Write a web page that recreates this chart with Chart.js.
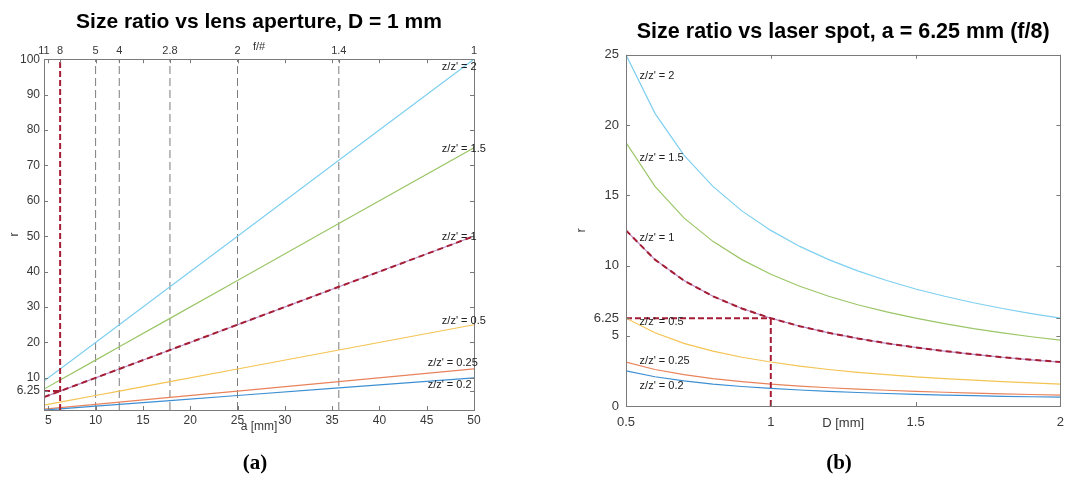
<!DOCTYPE html>
<html>
<head>
<meta charset="utf-8">
<script src="https://cdn.jsdelivr.net/npm/chart.js@4.4.1/dist/chart.umd.min.js"></script>
<style>
  body { margin: 0; background: #fff; }
  #wrap { position: relative; width: 1073px; height: 478px; overflow: hidden; }
  #wrap canvas { position: absolute; top: 0; }
  #chart-a { left: 0; }
  #chart-b { left: 540px; }
  .caption {
    position: absolute; top: 450px; line-height: 24px;
    font: bold 21px "Liberation Serif", serif; color: #000;
    transform: translateX(-50%);
  }
</style>
</head>
<body>
<div id="wrap">
  <canvas id="chart-a" width="540" height="478"></canvas>
  <canvas id="chart-b" width="533" height="478"></canvas>
  <div class="caption" style="left:255px">(a)</div>
  <div class="caption" style="left:839px">(b)</div>
</div>

<script>
// (a) size ratio r against lens aperture a, D = 1 mm
const apertureMm = [4.545, 6.25, 10, 12.5, 17.86, 25, 35.71, 50];
const fNumberLabels = ["11", "8", "5", "4", "2.8", "2", "1.4", "1"];
const apertureTicks = [5, 10, 15, 20, 25, 30, 35, 40, 45, 50];
const ratioTicksA = [6.25, 10, 20, 30, 40, 50, 60, 70, 80, 90, 100];

const rA_02 = [0.91, 1.25, 2.0, 2.5, 3.57, 5.0, 7.14, 10.0];
const rA_025 = [1.14, 1.56, 2.5, 3.13, 4.46, 6.25, 8.93, 12.5];
const rA_05 = [2.27, 3.13, 5.0, 6.25, 8.93, 12.5, 17.86, 25.0];
const rA_1 = [4.55, 6.25, 10.0, 12.5, 17.86, 25.0, 35.71, 50.0];
const rA_15 = [6.82, 9.38, 15.0, 18.75, 26.79, 37.5, 53.57, 75.0];
const rA_2 = [9.09, 12.5, 20.0, 25.0, 35.71, 50.0, 71.43, 100.0];

// (b) size ratio r against laser spot D, a = 6.25 mm
const spotMm = [0.5, 0.6, 0.7, 0.8, 0.9, 1.0, 1.1, 1.2, 1.3, 1.4, 1.5, 1.6, 1.7, 1.8, 1.9, 2.0];
const spotTicks = [0.5, 1, 1.5, 2];
const ratioTicksB = [0, 5, 6.25, 10, 15, 20, 25];

const rB_02 = [2.5, 2.08, 1.79, 1.56, 1.39, 1.25, 1.14, 1.04, 0.96, 0.89, 0.83, 0.78, 0.74, 0.69, 0.66, 0.63];
const rB_025 = [3.13, 2.6, 2.23, 1.95, 1.74, 1.56, 1.42, 1.3, 1.2, 1.12, 1.04, 0.98, 0.92, 0.87, 0.82, 0.78];
const rB_05 = [6.25, 5.21, 4.46, 3.91, 3.47, 3.13, 2.84, 2.6, 2.4, 2.23, 2.08, 1.95, 1.84, 1.74, 1.64, 1.56];
const rB_1 = [12.5, 10.42, 8.93, 7.81, 6.94, 6.25, 5.68, 5.21, 4.81, 4.46, 4.17, 3.91, 3.68, 3.47, 3.29, 3.13];
const rB_15 = [18.75, 15.63, 13.39, 11.72, 10.42, 9.38, 8.52, 7.81, 7.21, 6.7, 6.25, 5.86, 5.51, 5.21, 4.93, 4.69];
const rB_2 = [25.0, 20.83, 17.86, 15.63, 13.89, 12.5, 11.36, 10.42, 9.62, 8.93, 8.33, 7.81, 7.35, 6.94, 6.58, 6.25];

const ratioNames = ["z/z' = 0.2", "z/z' = 0.25", "z/z' = 0.5", "z/z' = 1", "z/z' = 1.5", "z/z' = 2"];

// working point: f/8 aperture and 1 mm spot give r = 6.25
const workA = { x: 6.25, y: 6.25 };
const workB = { x: 1, y: 6.25 };

const FONT = "'Liberation Sans', Arial, sans-serif";
const TEXT = "#383838";
const AXIS = "#7a7a7a";
const GUIDE = "#7c7c7c";
const MARK = "#a51d35";
const COLORS = ["#3d8fd3", "#e8835b", "#f4c453", "#b98bc9", "#9bc667", "#7ecff0"];

const toPoints = (xs, ys) => xs.map((x, i) => ({ x: x, y: ys[i] }));

function curve(points, color) {
  return { data: points, borderColor: color, borderWidth: 1.2, pointRadius: 0, order: 2 };
}
function dashed(points, color, width, dash, order) {
  return { data: points, borderColor: color, borderWidth: width, borderDash: dash, pointRadius: 0, order: order };
}
const tickList = values => scale => { scale.ticks = values.map(v => ({ value: v })); };

// box round the plot area with MATLAB-style inward tick marks, plus curve labels
const framePlugin = {
  id: "frame",
  afterDatasetsDraw(chart, args, opts) {
    const { ctx, chartArea, scales } = chart;
    const { left, right, top, bottom } = chartArea;
    const len = 4;
    ctx.save();
    ctx.strokeStyle = AXIS;
    ctx.lineWidth = 1;
    ctx.beginPath();
    scales.x.ticks.forEach(t => {
      const px = Math.round(scales.x.getPixelForValue(t.value)) + 0.5;
      ctx.moveTo(px, bottom); ctx.lineTo(px, bottom - len);
      ctx.moveTo(px, top); ctx.lineTo(px, top + len);
    });
    if (scales.xTop) {
      scales.xTop.ticks.forEach(t => {
        const px = Math.round(scales.xTop.getPixelForValue(t.value)) + 0.5;
        ctx.moveTo(px, top); ctx.lineTo(px, top + len);
      });
    }
    scales.y.ticks.forEach(t => {
      const py = Math.round(scales.y.getPixelForValue(t.value)) + 0.5;
      ctx.moveTo(left, py); ctx.lineTo(left + len, py);
      ctx.moveTo(right, py); ctx.lineTo(right - len, py);
    });
    ctx.stroke();
    ctx.strokeRect(Math.round(left) + 0.5, Math.round(top) + 0.5, Math.round(right - left), Math.round(bottom - top));

    ctx.fillStyle = "#222";
    ctx.font = "11px " + FONT;
    ctx.textAlign = "left";
    ctx.textBaseline = "middle";
    (opts.labels || []).forEach(l => {
      ctx.fillText(l.text, scales.x.getPixelForValue(l.x), scales.y.getPixelForValue(l.y));
    });
    ctx.restore();
  }
};

function tickFont(size) { return { family: FONT, size: size }; }

// ---------- chart (a) ----------
const labelPosA = [[45.1, 8.1], [45.1, 14.3], [46.6, 26.0], [46.6, 49.7], [46.6, 74.7], [46.6, 97.8]];
const xMinA = apertureMm[0], xMaxA = apertureMm[apertureMm.length - 1];
const yMinA = rA_02[0], yMaxA = 100;

const datasetsA = [];
// f-stop guide lines
apertureMm.slice(2, 7).forEach(a => {
  datasetsA.push(dashed([{ x: a, y: yMinA }, { x: a, y: yMaxA }], GUIDE, 1, [8, 4], 3));
});
[rA_02, rA_025, rA_05, rA_1, rA_15, rA_2].forEach((r, i) => {
  datasetsA.push(curve(toPoints(apertureMm, r), COLORS[i]));
});
datasetsA.push(dashed(toPoints(apertureMm, rA_1), MARK, 2, [6, 4], 1));
datasetsA.push(dashed([{ x: workA.x, y: yMinA }, { x: workA.x, y: yMaxA }], MARK, 2, [6, 3], 1));
datasetsA.push(dashed([{ x: xMinA, y: workA.y }, { x: workA.x, y: workA.y }], MARK, 2, [6, 3], 1));

new Chart(document.getElementById("chart-a"), {
  type: "line",
  data: { datasets: datasetsA },
  options: {
    responsive: false,
    animation: false,
    devicePixelRatio: 1,
    layout: { padding: { left: 0, right: 66, top: 0, bottom: 0 } },
    plugins: {
      legend: { display: false },
      tooltip: { enabled: false },
      title: {
        display: true,
        fullSize: false,
        text: "Size ratio vs lens aperture, D = 1 mm",
        color: "#000",
        font: { family: FONT, size: 21, weight: "bold" },
        padding: { top: 10, bottom: 4 },
      },
      frame: {
        labels: labelPosA.map((p, i) => ({ text: ratioNames[i], x: p[0], y: p[1] })),
      },
    },
    scales: {
      x: {
        type: "linear",
        position: "bottom",
        min: xMinA,
        max: xMaxA,
        afterBuildTicks: tickList(apertureTicks),
        afterFit: s => { s.height = 68; },
        grid: { display: false, drawTicks: false },
        border: { display: false },
        ticks: { color: TEXT, font: tickFont(12), padding: 3, autoSkip: false, maxRotation: 0, callback: v => String(v) },
        title: { display: true, text: "a [mm]", color: TEXT, font: tickFont(12), padding: { top: 0, bottom: 44 } },
      },
      xTop: {
        type: "linear",
        position: "top",
        min: xMinA,
        max: xMaxA,
        afterBuildTicks: tickList(apertureMm),
        afterFit: s => { s.height = 20; },
        grid: { display: false, drawTicks: false },
        border: { display: false },
        ticks: { color: TEXT, font: tickFont(11), padding: 2, autoSkip: false, maxRotation: 0, callback: (v, i) => fNumberLabels[i] },
        title: { display: true, text: "f/#", color: TEXT, font: tickFont(11), padding: { top: 1, bottom: 0 } },
      },
      y: {
        type: "linear",
        min: yMinA,
        max: yMaxA,
        afterBuildTicks: tickList(ratioTicksA),
        afterFit: s => { s.width = 44; },
        grid: { display: false, drawTicks: false },
        border: { display: false },
        ticks: { color: TEXT, font: tickFont(12), padding: 4, autoSkip: false, callback: v => String(v) },
        title: { display: true, text: "r", color: TEXT, font: tickFont(12), padding: { top: 7, bottom: 0 } },
      },
    },
  },
  plugins: [framePlugin],
});

// ---------- chart (b) ----------
const labelPosB = [[0.547, 1.46], [0.547, 3.17], [0.547, 5.95], [0.547, 11.98], [0.547, 17.65], [0.547, 23.46]];

const datasetsB = [];
[rB_02, rB_025, rB_05, rB_1, rB_15, rB_2].forEach((r, i) => {
  datasetsB.push(curve(toPoints(spotMm, r), COLORS[i]));
});
datasetsB.push(dashed(toPoints(spotMm, rB_1), MARK, 2, [6, 4], 1));
datasetsB.push(dashed([{ x: workB.x, y: 0 }, { x: workB.x, y: workB.y }], MARK, 2, [6, 3], 1));
datasetsB.push(dashed([{ x: spotMm[0], y: workB.y }, { x: workB.x, y: workB.y }], MARK, 2, [6, 3], 1));

new Chart(document.getElementById("chart-b"), {
  type: "line",
  data: { datasets: datasetsB },
  options: {
    responsive: false,
    animation: false,
    devicePixelRatio: 1,
    layout: { padding: { left: 0, right: 11, top: 0, bottom: 0 } },
    plugins: {
      legend: { display: false },
      tooltip: { enabled: false },
      title: {
        display: true,
        fullSize: false,
        text: "Size ratio vs laser spot, a = 6.25 mm (f/8)",
        color: "#000",
        font: { family: FONT, size: 21.5, weight: "bold" },
        padding: { top: 19, bottom: 10 },
      },
      frame: {
        labels: labelPosB.map((p, i) => ({ text: ratioNames[i], x: p[0], y: p[1] })),
      },
    },
    scales: {
      x: {
        type: "linear",
        min: 0.5,
        max: 2,
        afterBuildTicks: tickList(spotTicks),
        afterFit: s => { s.height = 72; },
        grid: { display: false, drawTicks: false },
        border: { display: false },
        ticks: { color: TEXT, font: tickFont(13), padding: 9, autoSkip: false, maxRotation: 0, callback: v => String(v) },
        title: { display: true, text: "D [mm]", color: TEXT, font: tickFont(13), padding: { top: 0, bottom: 47 } },
      },
      y: {
        type: "linear",
        min: 0,
        max: 25,
        afterBuildTicks: tickList(ratioTicksB),
        afterFit: s => { s.width = 86; },
        grid: { display: false, drawTicks: false },
        border: { display: false },
        ticks: { color: TEXT, font: tickFont(13), padding: 7, autoSkip: false, callback: v => String(v) },
        title: { display: true, text: "r", color: TEXT, font: tickFont(13), padding: { top: 34, bottom: 0 } },
      },
    },
  },
  plugins: [framePlugin],
});
</script>
</body>
</html>
